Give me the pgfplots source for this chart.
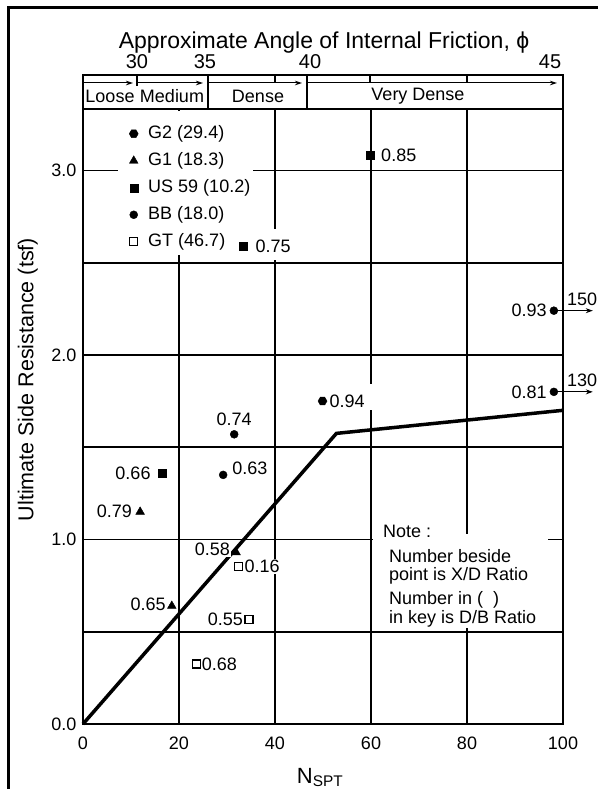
\documentclass[border=0pt]{standalone}
\usepackage{fontspec}
\setmainfont{Liberation Sans}
\usepackage{pgfplots}
\pgfplotsset{compat=1.18}
\usetikzlibrary{arrows.meta}
\pgfdeclareplotmark{hex*}{%
  \pgfpathmoveto{\pgfpointpolar{0}{\pgfplotmarksize}}%
  \pgfpathlineto{\pgfpointpolar{60}{\pgfplotmarksize}}%
  \pgfpathlineto{\pgfpointpolar{120}{\pgfplotmarksize}}%
  \pgfpathlineto{\pgfpointpolar{180}{\pgfplotmarksize}}%
  \pgfpathlineto{\pgfpointpolar{240}{\pgfplotmarksize}}%
  \pgfpathlineto{\pgfpointpolar{300}{\pgfplotmarksize}}%
  \pgfpathclose
  \pgfusepathqfillstroke}
\newcommand\lab{\fontsize{18}{20}\selectfont}
\begin{document}
\begin{tikzpicture}[x=1pt,y=1pt, lbl/.style={font=\lab, inner sep=1pt, fill=white},
  nt/.style={font=\lab, anchor=west, inner sep=0pt, text height=13pt, text depth=2pt}]
\useasboundingbox (0,0) rectangle (598,789);
\draw[line width=3pt] (8,0) -- (8,781) -- (598,781);
\begin{axis}[
  at={(83pt,65pt)}, anchor=south west,
  scale only axis, width=480pt, height=615pt,
  xmin=0, xmax=100, ymin=0, ymax=3.333,
  clip=false,
  axis line style={line width=2.8pt},
  xtick={0,20,40,60,80,100}, xticklabels={0,20,40,60,80,100},
  ytick={0,0.5,1,1.5,2,2.5,3}, yticklabels={0.0,,1.0,,2.0,,3.0},
  major tick length=0pt,
  grid=major, grid style={line width=1.7pt, black},
  tick label style={font=\lab},
  xticklabel style={yshift=-9pt},
  yticklabel style={xshift=-3pt},
  xlabel={\fontsize{22}{24}\selectfont N\textsubscript{SPT}},
  xlabel style={at={(axis description cs:0.494,-0.096)}, anchor=base},
  ylabel={Ultimate Side Resistance (tsf)},
  ylabel style={font=\fontsize{21.5}{23}\selectfont, at={(axis description cs:-0.115,0.56)}, anchor=center},
  legend style={at={(axis cs:7.3,3.30)}, anchor=north west, draw=none, fill=none,
    font=\lab, inner xsep=11pt, inner ysep=10pt, row sep=10pt,
    nodes={inner sep=0pt, text height=13pt, text depth=4pt},
    /tikz/every odd column/.append style={column sep=10pt}},
  legend cell align=left,
  legend image code/.code={\draw[mark repeat=2, mark phase=2, #1] plot coordinates {(-4pt,0pt) (0pt,0pt) (4pt,0pt)};},
]
\fill[white] (axis cs:7.3,2.54) rectangle (axis cs:35.4,3.32);
\fill[white] (axis cs:60.4,0.52) rectangle (axis cs:96.9,1.03);
\fill[white] (axis cs:39,2.515) rectangle (axis cs:41,2.68);
\fill[white] (axis cs:59,1.70) rectangle (axis cs:61,1.84);
\addplot[line width=3.5pt, black, forget plot] coordinates {(0,0) (52.8,1.575) (100,1.70)};
\addplot[only marks, mark=hex*, mark size=4.5pt, black] coordinates {(49.9,1.75)};
\addlegendentry{G2 (29.4)}
\addplot[only marks, mark=triangle*, mark size=5pt, black] coordinates {(11.9,1.15) (18.5,0.64) (31.9,0.93)};
\addlegendentry{G1 (18.3)}
\addplot[only marks, mark=square*, mark size=4pt, black] coordinates {(59.8,3.08) (33.4,2.59) (16.4,1.36)};
\addlegendentry{US 59 (10.2)}
\addplot[only marks, mark=*, mark size=4pt, black] coordinates {(31.5,1.57) (29.2,1.35) (98.1,2.24) (98.1,1.80)};
\addlegendentry{BB (18.0)}
\addplot[only marks, mark=square, mark size=4pt, black, mark options={line width=1.3pt}] coordinates {(32.4,0.855) (34.6,0.565) (23.7,0.325)};
\addlegendentry{GT (46.7)}
% point labels (X/D ratio)
\node[lbl, anchor=west, xshift=10pt] at (axis cs:59.8,3.08) {0.85};
\node[lbl, anchor=west, xshift=11pt] at (axis cs:33.4,2.59) {0.75};
\node[lbl, anchor=east, xshift=-10pt] at (axis cs:16.4,1.36) {0.66};
\node[lbl, anchor=east, xshift=-7pt] at (axis cs:11.9,1.15) {0.79};
\node[lbl, anchor=south, yshift=7pt] at (axis cs:31.5,1.57) {0.74};
\node[lbl, anchor=west, xshift=8pt, yshift=7pt] at (axis cs:29.2,1.35) {0.63};
\node[lbl, anchor=west, xshift=6pt] at (axis cs:49.9,1.75) {0.94};
\node[lbl, anchor=east, xshift=-6pt] at (axis cs:98.1,2.24) {0.93};
\node[lbl, anchor=east, xshift=-6pt] at (axis cs:98.1,1.80) {0.81};
\node[lbl, anchor=east, xshift=-5pt, yshift=3pt] at (axis cs:31.9,0.93) {0.58};
\node[lbl, anchor=west, xshift=5pt] at (axis cs:32.4,0.855) {0.16};
\node[lbl, anchor=east, xshift=-5pt, yshift=2pt] at (axis cs:18.5,0.64) {0.65};
\node[lbl, anchor=east, xshift=-5pt] at (axis cs:34.6,0.565) {0.55};
\node[lbl, anchor=west, xshift=4pt] at (axis cs:23.7,0.325) {0.68};
% off-scale arrows
\draw[line width=1pt, -{Stealth[length=7pt,width=5pt]}] (axis cs:98.1,2.24) -- (axis cs:106.2,2.24);
\draw[line width=1pt, -{Stealth[length=7pt,width=5pt]}] (axis cs:98.1,1.80) -- (axis cs:106.2,1.80);
\node[font=\lab, anchor=south] at (axis cs:104,2.25) {150};
\node[font=\lab, anchor=south] at (axis cs:104,1.81) {130};
% note
\node[nt] at (axis cs:62.5,1.041) {Note :};
\node[nt] at (axis cs:63.75,0.905) {Number beside};
\node[nt] at (axis cs:63.75,0.808) {point is X/D Ratio};
\node[nt] at (axis cs:63.75,0.678) {Number in (\ \ )};
\node[nt] at (axis cs:63.75,0.575) {in key is D/B Ratio};
\draw[line width=2.8pt] (rel axis cs:0,0) rectangle (rel axis cs:1,1);
\end{axis}
% header band
\draw[line width=2pt] (83,680) rectangle (563,714);
\begin{scope}[line width=1pt, -{Stealth[length=7pt,width=4.5pt]}]
\draw (83,706) -- (133,706);
\draw (137,706) -- (203,706);
\draw (208,706) -- (302,706);
\draw (307,706) -- (557,706);
\end{scope}
\begin{scope}[line width=1.6pt]
\draw (137,714) -- (137,703);
\draw (208,714) -- (208,680);
\draw (307,714) -- (307,680);
\draw (275,714) -- (275,706);
\draw (370,714) -- (370,706);
\draw (467,714) -- (467,706);
\end{scope}
\node[font=\lab] at (110,693) {Loose};
\node[font=\lab] at (172,693) {Medium};
\node[font=\lab] at (258,693) {Dense};
\node[font=\lab] at (418,693) {Very Dense};
\node[font=\fontsize{20}{22}\selectfont] at (137,727) {30};
\node[font=\fontsize{20}{22}\selectfont] at (205,727) {35};
\node[font=\fontsize{20}{22}\selectfont] at (310,727) {40};
\node[font=\fontsize{20}{22}\selectfont] at (550,727) {45};
\node[font=\fontsize{23}{25}\selectfont] at (324,746) {Approximate Angle of Internal Friction, ϕ};
\end{tikzpicture}
\end{document}
